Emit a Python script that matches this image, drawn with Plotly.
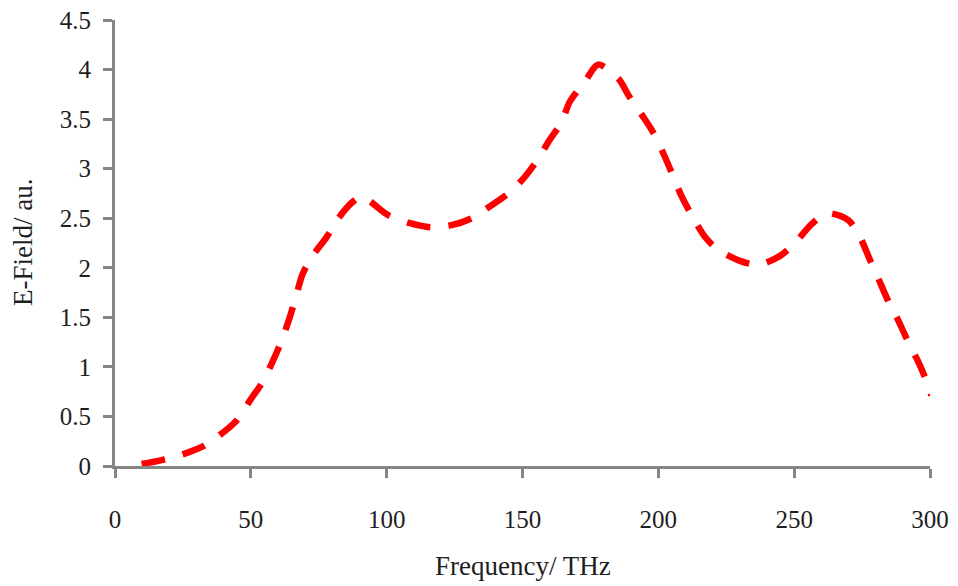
import plotly.graph_objects as go

freq = [9.8, 17.2, 25.2, 32.5, 39.9, 44.8, 49.9, 54.4, 58.3, 61.4, 64.2, 66.6, 69.1, 73.0,
        77.9, 82.2, 87.7, 90.8, 93.9, 100.6, 108.6, 116.0, 123.9, 131.3, 138.0, 144.8,
        150.3, 155.8, 159.5, 164.4, 167.5, 173.0, 177.9, 185.3, 189.0, 194.5, 198.2,
        202.4, 208.6, 212.3, 217.2, 222.1, 230.0, 236.8, 244.8, 250.3, 256.4, 262.0,
        269.9, 274.2, 277.9, 281.0, 284.7, 288.3, 292.0, 295.7, 298.8, 300.5]
efield = [0.02, 0.06, 0.12, 0.20, 0.34, 0.46, 0.67, 0.85, 1.07, 1.27, 1.49, 1.71, 1.94, 2.13,
          2.31, 2.50, 2.67, 2.72, 2.67, 2.53, 2.45, 2.41, 2.43, 2.50, 2.62, 2.75,
          2.90, 3.10, 3.27, 3.47, 3.68, 3.88, 4.05, 3.91, 3.74, 3.52, 3.36,
          3.12, 2.72, 2.53, 2.31, 2.18, 2.07, 2.03, 2.12, 2.25, 2.44, 2.55,
          2.48, 2.31, 2.08, 1.89, 1.66, 1.47, 1.25, 1.05, 0.85, 0.71]

x_ticks = [0, 50, 100, 150, 200, 250, 300]
y_ticks = [0, 0.5, 1, 1.5, 2, 2.5, 3, 3.5, 4, 4.5]
y_labels = ["0", "0.5", "1", "1.5", "2", "2.5", "3", "3.5", "4", "4.5"]

fig = go.Figure()
fig.add_trace(go.Scatter(
    x=freq, y=efield, mode="lines", cliponaxis=False,
    line=dict(color="#ff0000", width=6.5, dash="24px,18px", shape="spline", smoothing=0.8),
    showlegend=False, hoverinfo="skip"))

axis_color = "#868686"
font_family = "Liberation Serif, Times New Roman, serif"
text_color = "#1e1e1e"

fig.update_layout(
    width=950, height=578,
    margin=dict(l=107, r=28, t=12, b=120),
    paper_bgcolor="white", plot_bgcolor="white",
    font=dict(family=font_family, size=25, color=text_color),
    xaxis=dict(range=[0, 300], tickvals=x_ticks, ticktext=[str(v) for v in x_ticks],
               automargin=False,
               showgrid=False, zeroline=False, showline=True, linecolor=axis_color, linewidth=3,
               ticks="outside", ticklen=9, tickwidth=3, tickcolor=axis_color,
               ticklabelstandoff=20, ticklabeloverflow="allow",
               tickfont=dict(family=font_family, size=25, color=text_color)),
    yaxis=dict(range=[0, 4.5], tickvals=y_ticks, ticktext=y_labels,
               automargin=False,
               showgrid=False, zeroline=False, showline=True, linecolor=axis_color, linewidth=3,
               ticks="outside", ticklen=9, tickwidth=3, tickcolor=axis_color,
               ticklabelstandoff=7, ticklabeloverflow="allow",
               tickfont=dict(family=font_family, size=25, color=text_color)),
    annotations=[
        dict(text="Frequency/ THz", xref="paper", yref="paper", x=0.5, y=0,
             yshift=-100, showarrow=False, xanchor="center", yanchor="middle",
             font=dict(family=font_family, size=27, color=text_color)),
        dict(text="E-Field/ au.", xref="paper", yref="paper", x=0, y=0.5,
             xshift=-92, showarrow=False, xanchor="center", yanchor="middle", textangle=-90,
             font=dict(family=font_family, size=27, color=text_color)),
    ],
)

fig.write_html("out.html")
